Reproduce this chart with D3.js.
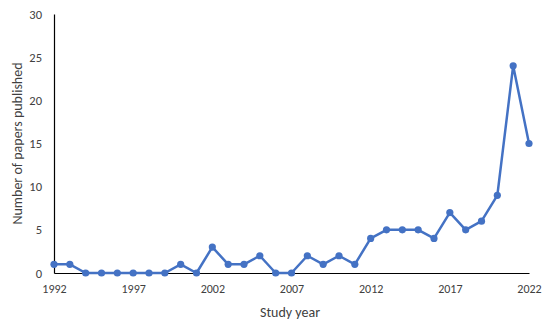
<!DOCTYPE html>
<html>
<head>
<meta charset="utf-8">
<script src="https://cdn.jsdelivr.net/npm/d3@7"></script>
<style>
  html, body { margin: 0; padding: 0; background: #fff; }
  svg text { font-family: Carlito, Lato, "Open Sans", sans-serif; fill: #404040; }
</style>
</head>
<body>
<svg id="chart" width="550" height="325"></svg>
<script>
// Papers published per study year
const years = [1992,1993,1994,1995,1996,1997,1998,1999,2000,2001,2002,2003,2004,2005,2006,2007,
               2008,2009,2010,2011,2012,2013,2014,2015,2016,2017,2018,2019,2020,2021,2022];
const papers = [1,1,0,0,0,0,0,0,1,0,3,1,1,2,0,0,
                2,1,2,1,4,5,5,5,4,7,5,6,9,24,15];
const xTicks = [1992,1997,2002,2007,2012,2017,2022];
const yTicks = [0,5,10,15,20,25,30];

const svg = d3.select("#chart");
const m = { left: 54, right: 21, top: 14, bottom: 52 };
const W = 550, H = 325;

const x = d3.scaleLinear().domain([1992, 2022]).range([m.left, W - m.right]);
const y = d3.scaleLinear().domain([0, 30]).range([H - m.bottom, m.top]);

// y axis
const yAxis = svg.append("g")
  .attr("transform", `translate(${m.left},0)`)
  .call(d3.axisLeft(y).tickValues(yTicks).tickSize(0).tickPadding(12));
yAxis.select(".domain").attr("stroke", "#000").attr("stroke-width", 1.2);
yAxis.selectAll("text").style("font-size", "12.5px").attr("fill", "#404040");

// x axis
const xAxis = svg.append("g")
  .attr("transform", `translate(0,${y(0)})`)
  .call(d3.axisBottom(x).tickValues(xTicks).tickFormat(d3.format("d")).tickSize(0).tickPadding(11));
xAxis.select(".domain").attr("stroke", "#000").attr("stroke-width", 1.2);
xAxis.selectAll("text").style("font-size", "12px").attr("fill", "#404040");

// axis titles
svg.append("text")
  .attr("x", 290)
  .attr("y", 317)
  .attr("text-anchor", "middle")
  .style("font-size", "14px")
  .text("Study year");

svg.append("text")
  .attr("transform", `translate(22,${(m.top + H - m.bottom) / 2}) rotate(-90)`)
  .attr("text-anchor", "middle")
  .style("font-size", "14px")
  .text("Number  of papers published");

const data = years.map((yr, i) => ({ yr, v: papers[i] }));
const blue = "#4472C4";

svg.append("path")
  .datum(data)
  .attr("fill", "none")
  .attr("stroke", blue)
  .attr("stroke-width", 2.5)
  .attr("stroke-linejoin", "round")
  .attr("d", d3.line().x(d => x(d.yr)).y(d => y(d.v)));

svg.append("g").selectAll("circle")
  .data(data)
  .join("circle")
  .attr("cx", d => x(d.yr))
  .attr("cy", d => y(d.v))
  .attr("r", 3.6)
  .attr("fill", blue);
</script>
</body>
</html>
